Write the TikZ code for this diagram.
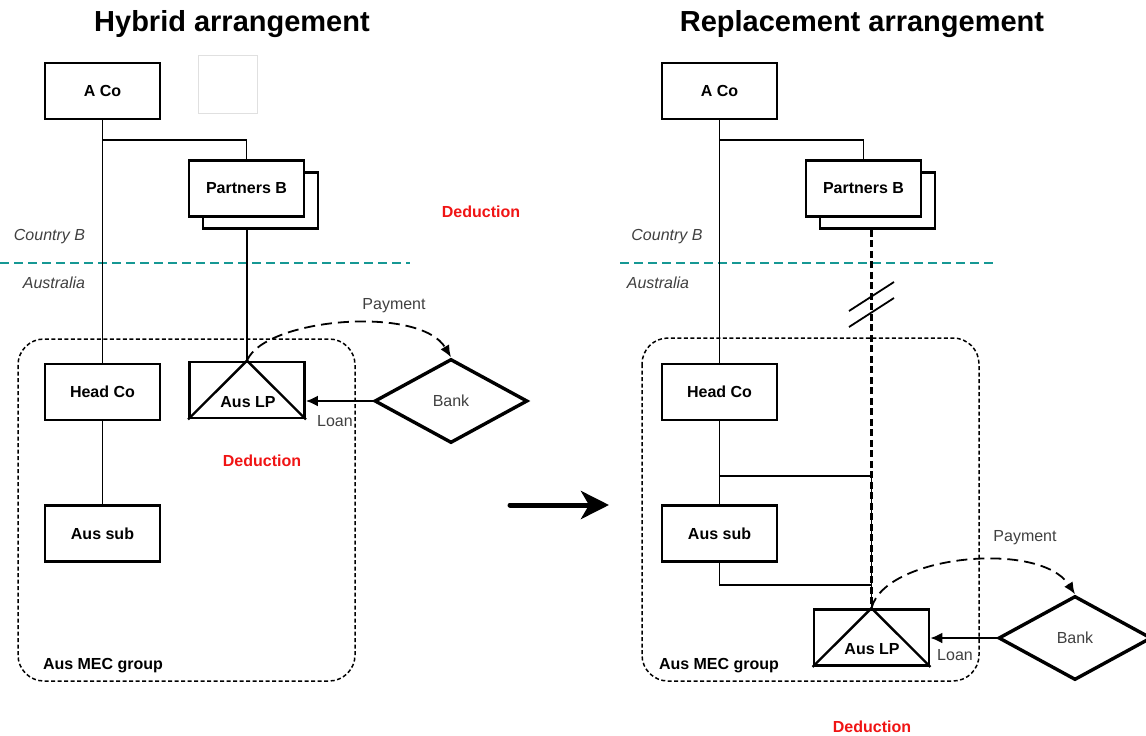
\documentclass[tikz,border=0pt]{standalone}
\usepackage{fontspec}
\setmainfont{Liberation Sans}
\usepackage{xcolor}
\usetikzlibrary{shapes,arrows.meta}
\definecolor{borderteal}{RGB}{22,152,148}
\definecolor{softtext}{RGB}{64,64,64}
\definecolor{dedred}{RGB}{240,20,20}

\begin{document}
\begin{tikzpicture}[x=1pt, y=-1pt, font=\fontsize{16}{19}\selectfont,
  entity/.style={draw, line width=2.8, fill=white, minimum width=115, minimum height=56, inner sep=0, font=\fontsize{16}{19}\selectfont\bfseries},
  ghost/.style={draw=black!12, line width=1, minimum width=59, minimum height=58, inner sep=0},
  bank/.style={diamond, draw, line width=3.4, fill=white, minimum width=153, minimum height=84, inner sep=0, text=softtext},
  boldtext/.style={font=\fontsize{16}{19}\selectfont\bfseries},
  title/.style={font=\fontsize{29}{34}\selectfont\bfseries},
  note/.style={text=softtext},
  country/.style={text=softtext, font=\fontsize{16}{19}\selectfont\itshape},
  deduction/.style={text=dedred, font=\fontsize{16}{19}\selectfont\bfseries},
  conn/.style={line width=1.8},
  group/.style={line width=1.5, dash pattern=on 4 off 2.5, rounded corners=26},
  border/.style={borderteal, line width=1.9, dash pattern=on 9 off 5},
  pay/.style={line width=1.8, dash pattern=on 11 off 6, -{Latex[length=12,width=10]}},
  loan/.style={line width=1.9, -{Latex[length=12,width=11]}}]
\useasboundingbox (0,0) rectangle (1146,736);

%hybrid arrangement
\node[title] (t1) at (232,24) {Hybrid arrangement};
\draw[border] (0,263) -- (410,263);
\draw[group] (18,339) rectangle (355,681);
\node[country] (h9) at (49.5,237) {Country B};
\node[country] (h10) at (54,283) {Australia};
\node[entity] (h1) at (102.5,91) {A Co};
\node[ghost] (h0) at (227.5,84) {};
\node[entity] (h3b) at (260.5,200.5) {};
\node[entity] (h3) at (246.5,188.5) {Partners B};
\node[entity] (h4) at (102.5,392) {Head Co};
\node[entity] (h5) at (247,390) {};
\node[entity] (h6) at (102.5,533.5) {Aus sub};
\node[bank] (h7) at (451,401) {Bank};
\node[boldtext] (h5t) at (248,402) {Aus LP};
\node[boldtext] (h8) at (103,666) {Aus MEC group};
\node[note] (h11) at (335,421) {Loan};
\node[note] (h12) at (394,306) {Payment};
\node[deduction] (h13) at (481,212) {Deduction};
\node[deduction] (h14) at (262,461) {Deduction};
\coordinate (j1) at (102.5,140);
\draw[conn] (h1.south) -- (h4.north);
\draw[conn] (j1) -| (h3.north);
\draw[conn] (h3b.south -| h5.north) -- (h5.north);
\draw[conn] (h4.south) -- (h6.north);
\draw[line width=2.4] (h5.south west) -- (h5.north) -- (h5.south east);
\draw[loan] (h7.west) -- (h5.east |- h7.west);
\draw[pay] (h5.north) .. controls (265,318) and (420,305) .. (h7.north);

%move to the new arrangement
\coordinate (c1) at (510,505);
\coordinate (c2) at (609,505);
\draw[line width=5, line cap=round, -{Stealth[length=28,width=28,inset=8]}] (c1) -- (c2);

%replacement arrangement
\node[title] (t2) at (862,24) {Replacement arrangement};
\draw[border] (620,263) -- (995,263);
\draw[group] (642,338) rectangle (979,681);
\node[country] (r9) at (667,237) {Country B};
\node[country] (r10) at (658,283) {Australia};
\node[entity] (r1) at (719.5,91) {A Co};
\node[entity] (r3b) at (877.5,200.5) {};
\node[entity] (r3) at (863.5,188.5) {Partners B};
\node[entity] (r4) at (719.5,392) {Head Co};
\node[entity] (r6) at (719.5,533.5) {Aus sub};
\node[entity] (r5) at (871.5,637.5) {};
\node[bank] (r7) at (1075,638) {Bank};
\node[boldtext] (r5t) at (872,649) {Aus LP};
\node[boldtext] (r8) at (719,666) {Aus MEC group};
\node[note] (r11) at (955,655) {Loan};
\node[note] (r12) at (1025,538) {Payment};
\node[deduction] (r14) at (872,727) {Deduction};
\coordinate (j2) at (719.5,140);
\coordinate (j3) at (719.5,476);
\coordinate (j4) at (871.5,585);
\draw[conn] (r1.south) -- (r4.north);
\draw[conn] (j2) -| (r3.north);
\draw[conn] (r4.south) -- (r6.north);
\draw[conn] (j3) -| (j4) -| (r6.south);
\draw[conn] (j4) -- (r5.north);
\draw[line width=2.2, dash pattern=on 7 off 3.5] (r3b.south -| r5.north) -- (r5.north);
\draw[conn] (849,311) -- (894,282);
\draw[conn] (849,327) -- (894,298);
\draw[line width=2.4] (r5.south west) -- (r5.north) -- (r5.south east);
\draw[loan] (r7.west) -- (r5.east |- r7.west);
\draw[pay] (r5.north) .. controls (885,555) and (1040,540) .. (r7.north);
\end{tikzpicture}
\end{document}
